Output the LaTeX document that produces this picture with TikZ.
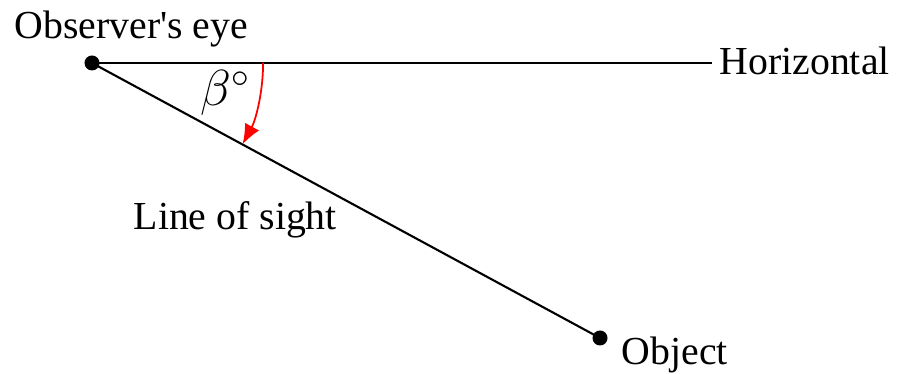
\documentclass[tikz,border=0pt]{standalone}
\usepackage{fontspec}
\setmainfont{Liberation Serif}
\usepackage{tikz}
\usetikzlibrary{arrows.meta, positioning, calc}

\tikzset{
    dot/.style={circle, fill=black, inner sep=0pt, minimum size=0.15cm},
    lbl/.style={font=\fontsize{11.3}{14}\selectfont, inner sep=2pt},
    angarrow/.style={red, line width=0.5pt, -{Latex[length=2mm, width=1.6mm]}}
}

\begin{document}
\begin{tikzpicture}[x=0.01cm, y=0.01cm]
    \useasboundingbox (0, 0) rectangle (898, 374);

    % 点
    \node[dot] (eye) at (92, 311) {};
    \node[dot] (obj) at (600, 36) {};

    % 标注
    \node[lbl, anchor=base west] (eyelbl) at (7, 335) {Observer\textquotesingle s eye};
    \node[lbl, anchor=base west] (hor) at (712, 299) {Horizontal};
    \node[lbl, anchor=base west] (objlbl) at (614, 9) {Object};
    \node[lbl, anchor=base west] (los) at (126, 144) {Line of sight};
    \node[lbl, font=\fontsize{14}{16}\selectfont] (ang) at (226, 281) {$\beta^{\circ}$};

    % 水平线和视线
    \draw[line width=0.6pt] (eye.center) -- (eye.center -| hor.west);
    \draw[line width=0.6pt] (eye.center) -- (obj.center);

    % 角度
    \draw[angarrow] ([shift={(0:1.71cm)}]eye.center) arc[start angle=0, end angle=-28.4, radius=1.71cm];
\end{tikzpicture}
\end{document}
